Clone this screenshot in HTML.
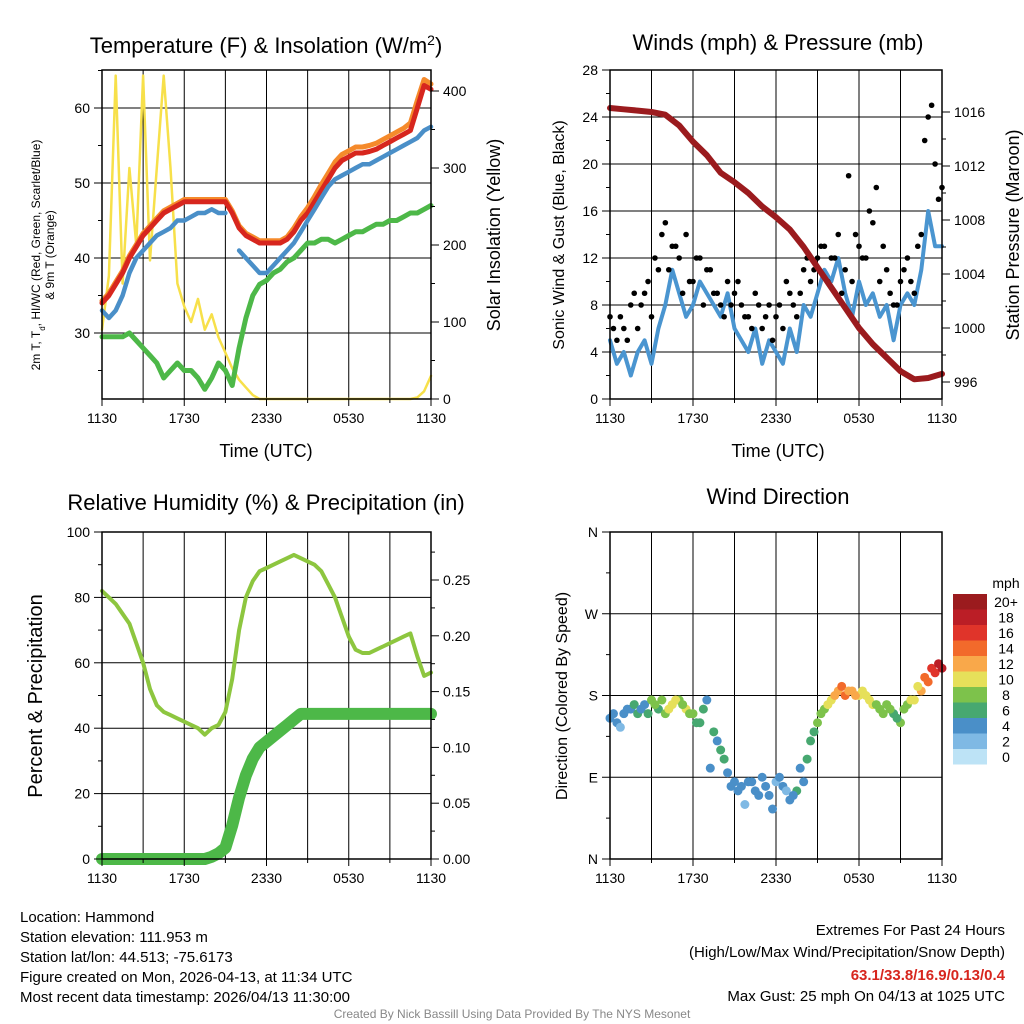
<!DOCTYPE html>
<html><head><meta charset="utf-8"><style>
body{margin:0;background:#fff}
svg{display:block;font-family:"Liberation Sans",Arial,sans-serif}
</style></head><body>
<svg id="c" width="1024" height="1024" viewBox="0 0 1024 1024"></svg>
<script>
const hoursHalf = Array.from({length:49},(_,i)=>i/2);
const xTickLabels = ["1130","1730","2330","0530","1130"];
const tempRed = [34,35,36.5,38,40,41.5,43,44,45,46,46.5,47,47.5,47.5,47.5,47.5,47.5,47.5,47.5,46,44,43,42.5,42,42,42,42,42.5,43.5,45,46,47.5,49,50.5,52,53,53.5,54,54,54.2,54.5,55,55.5,56,56.5,57,60,63,62.5];
const tempOrange = [34.3,35.3,36.8,38.3,40.3,41.8,43.3,44.3,45.3,46.3,46.8,47.3,47.8,47.8,47.8,47.8,47.8,47.8,47.8,46.3,44.3,43.3,42.8,42.3,42.3,42.3,42.3,42.8,44,45.5,46.7,48.2,49.8,51.3,52.8,53.8,54.3,54.8,54.8,55,55.3,55.8,56.3,56.8,57.3,58,61,63.8,63.2];
const tempBlue = [33,32,33,35,38,40,41,42,43,43.5,44,45,45,45.5,46,46,46.5,46,46,null,41,40,39,38,38,39,40,41,42,43.5,45,46.5,48,49.5,50.5,51,51.5,52,52.5,52.5,53,53.5,54,54.5,55,55.5,56,57,57.5];
const dewGreen = [29.5,29.5,29.5,29.5,30,29,28,27,26,24,25,26,25,25,24,22.5,24,26,25,23,28,32,35,36.5,37,38,38.5,39.5,40,41,42,42,42.5,42.5,42,42.5,43,43.5,43.5,44,44.5,44.5,45,45,45.5,46,46,46.5,47];
const solar = [90,160,420,150,300,200,420,180,300,420,300,150,120,100,130,90,110,80,60,40,25,15,5,0,0,0,0,0,0,0,0,0,0,0,0,0,0,0,0,0,0,0,0,0,0,0,2,10,30];
const windSpd = [5,3,4,2,4,5,3,6,8,11,9,7,8,10,9,8,7,9,6,5,4,6,3,5,4,3,6,4,8,7,9,11,10,12,9,7,10,8,9,7,8,5,8,9,8,11,16,13,13];
const gustA = [7,5,6,8,6,9,7,11,15,13,12,14,10,12,11,9,8,10,9,8,7,9,6,8,7,6,9,7,11,10,12,13,12,14,11,10,13,12,15,10,11,8,10,12,9,14,24,20,18];
const gustB = [6,7,5,9,8,10,12,14,11,13,9,10,12,8,11,9,7,8,10,7,6,8,7,5,8,10,8,9,12,11,13,10,12,9,19,14,12,16,18,13,9,8,11,10,13,22,25,17];
const hoursHourly = Array.from({length:25},(_,i)=>i);
const pressure = [1016.3,1016.2,1016.1,1016,1015.8,1015,1013.8,1012.8,1011.5,1010.8,1010,1009,1008.2,1007.3,1006,1004.5,1003,1001.5,1000,998.8,997.8,996.8,996.2,996.3,996.6];
const rh = [82,80,78,75,72,66,60,52,47,45,44,43,42,41,40,38,40,41,45,55,70,80,85,88,89,90,91,92,93,92,91,90,88,84,80,74,68,64,63,63,64,65,66,67,68,69,62,56,57];
const precip = [0,0,0,0,0,0,0,0,0,0,0,0,0,0,0,0,0.002,0.005,0.01,0.03,0.055,0.075,0.09,0.1,0.105,0.11,0.115,0.12,0.125,0.13,0.13,0.13,0.13,0.13,0.13,0.13,0.13,0.13,0.13,0.13,0.13,0.13,0.13,0.13,0.13,0.13,0.13,0.13,0.13];
const windDir = [155,150,160,165,160,170,175,165,160,170,175,165,160,150,175,140,120,95,85,80,85,75,90,70,85,80,65,75,85,130,150,165,175,185,180,185,180,180,170,165,170,160,150,170,175,185,195,205,210];
const dirSpeed = [3,4,4,3,5,4,7,6,8,10,7,9,8,6,4,6,5,4,3,3,4,3,4,3,2,4,3,5,4,6,7,8,9,11,13,12,10,10,9,8,7,6,8,7,9,11,14,16,17];
const windDirB = [160,145,165,170,165,160,170,175,165,175,170,160,150,165,100,130,110,80,75,60,85,70,80,55,90,75,70,100,110,140,160,170,180,190,185,180,185,175,170,160,165,155,165,175,190,200,210,215];
const dirSpeedB = [3,2,4,5,4,6,7,8,10,9,8,7,6,5,3,4,5,3,4,2,3,4,3,4,3,2,3,4,5,6,7,9,11,13,12,11,10,9,8,7,8,6,8,9,10,13,15,17];
const cbLabels = ["20+","18","16","14","12","10","8","6","4","2","0"];
const cbColors = ["#9b1b1e","#bb1e26","#e0342a","#f26a2b","#f9a84a","#e6e05a","#7dc24b","#47a870","#4a8fc8","#7fb9e4","#bde3f6"];

const svg=document.getElementById('c');
const NS='http://www.w3.org/2000/svg';
function mk(tag,attrs,parent,text){const e=document.createElementNS(NS,tag);for(const k in attrs)e.setAttribute(k,attrs[k]);if(text!==undefined)e.textContent=text;(parent||svg).appendChild(e);return e;}
function txt(x,y,s,size,anchor,name,extra){const e=mk('text',Object.assign({x:x,y:y,'font-size':size,'text-anchor':anchor||'middle',fill:'#000'},extra||{}),svg,s);return e;}
function path(xs,ys,fx,fy,color,w,name){let d='',pen=false;for(let i=0;i<xs.length;i++){if(ys[i]===null||ys[i]===undefined){pen=false;continue;}d+=(pen?'L':'M')+fx(xs[i]).toFixed(1)+' '+fy(ys[i]).toFixed(1);pen=true;}const p=mk('path',{d:d,fill:'none',stroke:color,'stroke-width':w,'stroke-linejoin':'round','stroke-linecap':'round'});return p;}
function frame(x0,x1,y0,y1,name){const g=mk('rect',{x:x0,y:y0,width:x1-x0,height:y1-y0,fill:'none',stroke:'#000','stroke-width':1.5});}
function grid(x0,x1,y0,y1,ys){for(let h=3;h<24;h+=3){const x=x0+(x1-x0)*h/24;mk('line',{x1:x,x2:x,y1:y0,y2:y1,stroke:'#000','stroke-width':1});}ys.forEach(y=>mk('line',{x1:x0,x2:x1,y1:y,y2:y,stroke:'#000','stroke-width':1}));}
function xAxis(x0,x1,y1,name){for(let h=0;h<=24;h+=3){const x=x0+(x1-x0)*h/24;mk('line',{x1:x,x2:x,y1:y1,y2:y1+(h%6===0?7:4),stroke:'#000'});}xTickLabels.forEach((l,i)=>{txt(x0+(x1-x0)*i/4,y1+24,l,14,'middle',name+'-tick-'+i);});}
function leftTicks(x0,vals,fy,labels,name,minor){vals.forEach((v,i)=>{const y=fy(v);mk('line',{x1:x0-8,x2:x0,y1:y,y2:y,stroke:'#000'});if(labels)txt(x0-12,y+5,labels[i],14,'end',name+'-tick-'+i);});(minor||[]).forEach(v=>{const y=fy(v);mk('line',{x1:x0-4,x2:x0,y1:y,y2:y,stroke:'#000'});});}
function rightTicks(x1,vals,fy,labels,name,minor){vals.forEach((v,i)=>{const y=fy(v);mk('line',{x1:x1,x2:x1+8,y1:y,y2:y,stroke:'#000'});txt(x1+12,y+5,labels[i],14,'start',name+'-tick-'+i);});(minor||[]).forEach(v=>{const y=fy(v);mk('line',{x1:x1,x2:x1+4,y1:y,y2:y,stroke:'#000'});});}

// ===== Panel 1 =====
{const x0=102,x1=431,y0=70,y1=399;const fx=h=>x0+(x1-x0)*h/24;const fy=v=>333-(v-30)*7.5;const fr=v=>399-v*0.77;
grid(x0,x1,y0,y1,[30,40,50,60].map(fy));
path(hoursHalf,solar,fx,fr,'#f7e04a',2.5,'solar-insolation-line');
path(hoursHalf,dewGreen,fx,fy,'#4db848',5,'dewpoint-line');
path(hoursHalf,tempOrange,fx,fy,'#f58a2b',5,'temp-9m-line');
path(hoursHalf,tempRed,fx,fy,'#d7261e',5,'temp-2m-line');
path(hoursHalf,tempBlue,fx,fy,'#4a8fc8',4.5,'wind-chill-line');
frame(x0,x1,y0,y1,'temperature-plot-frame');
leftTicks(x0,[30,40,50,60],fy,['30','40','50','60'],'temp-y',[25,35,45,55,65]);
rightTicks(x1,[0,100,200,300,400],fr,['0','100','200','300','400'],'solar-y',[50,150,250,350]);
xAxis(x0,x1,y1,'temp-x');
const t=txt(266,53,'Temperature (F) & Insolation (W/m',22,'middle','temperature-title');mk('tspan',{'baseline-shift':'super','font-size':14},t,'2');mk('tspan',{},t,')');
txt(266,457,'Time (UTC)',18,'middle','temperature-x-title');
const yl=txt(0,0,'',12,'middle','temperature-y-title',{transform:'translate(40,255) rotate(-90)'});mk('tspan',{x:0,y:0},yl,'2m T, T');mk('tspan',{'baseline-shift':'sub','font-size':8},yl,'d');mk('tspan',{},yl,', HI/WC (Red, Green, Scarlet/Blue)');mk('tspan',{x:0,y:14},yl,'& 9m T (Orange)');
txt(0,0,'Solar Insolation (Yellow)',18,'middle','solar-y-title',{transform:'translate(500,235) rotate(-90)'});
}
// ===== Panel 2 =====
{const x0=610,x1=942,y0=70,y1=399;const fx=h=>x0+(x1-x0)*h/24;const fy=v=>399-v*11.75;const fp=p=>382-(p-996)*13.5;
grid(x0,x1,y0,y1,[4,8,12,16,20,24].map(fy));
path(hoursHalf,windSpd,fx,fy,'#4a95d0',4,'sonic-wind-line');
gustA.forEach((g,i)=>{const c=mk('circle',{cx:fx(hoursHalf[i]),cy:fy(g),r:2.8,fill:'#000'});});
gustB.forEach((g,i)=>{const c=mk('circle',{cx:fx(hoursHalf[i]+0.25),cy:fy(g),r:2.8,fill:'#000'});});
path(hoursHourly,pressure,fx,fp,'#9b1b1e',6,'pressure-line');
frame(x0,x1,y0,y1,'winds-plot-frame');
leftTicks(x0,[0,4,8,12,16,20,24,28],fy,['0','4','8','12','16','20','24','28'],'wind-y',[2,6,10,14,18,22,26]);
rightTicks(x1,[996,1000,1004,1008,1012,1016],fp,['996','1000','1004','1008','1012','1016'],'pressure-y',[998,1002,1006,1010,1014]);
xAxis(x0,x1,y1,'wind-x');
txt(778,50,'Winds (mph) & Pressure (mb)',22,'middle','winds-title');
txt(778,457,'Time (UTC)',18,'middle','winds-x-title');
txt(0,0,'Sonic Wind & Gust (Blue, Black)',16,'middle','wind-y-title',{transform:'translate(564,235) rotate(-90)'});
txt(0,0,'Station Pressure (Maroon)',18,'middle','pressure-y-title',{transform:'translate(1019,235) rotate(-90)'});
}
// ===== Panel 3 =====
{const x0=102,x1=431,y0=532,y1=859;const fx=h=>x0+(x1-x0)*h/24;const fy=v=>859-v*3.27;const fq=v=>859-v*1116;
grid(x0,x1,y0,y1,[20,40,60,80].map(fy));
path(hoursHalf,rh,fx,fy,'#8dc63f',4,'humidity-line');
path(hoursHalf,precip,fx,fq,'#4db848',12,'precip-line');
frame(x0,x1,y0,y1,'humidity-plot-frame');
leftTicks(x0,[0,20,40,60,80,100],fy,['0','20','40','60','80','100'],'rh-y',[10,30,50,70,90]);
rightTicks(x1,[0,0.05,0.1,0.15,0.2,0.25],fq,['0.00','0.05','0.10','0.15','0.20','0.25'],'precip-y',[0.025,0.075,0.125,0.175,0.225,0.275]);
xAxis(x0,x1,y1,'rh-x');
txt(266,510,'Relative Humidity (%) & Precipitation (in)',22,'middle','humidity-title');
txt(0,0,'Percent & Precipitation',20,'middle','rh-y-title',{transform:'translate(42,696) rotate(-90)'});
}
// ===== Panel 4 =====
{const x0=610,x1=942,y0=532,y1=859;const fx=h=>x0+(x1-x0)*h/24;const fy=d=>859-d*(327/360);
grid(x0,x1,y0,y1,[90,180,270].map(fy));
const col=s=>{const i=Math.min(10,Math.floor((s+1)/2));return cbColors[10-i];};
windDir.forEach((d,i)=>{const c=mk('circle',{cx:fx(hoursHalf[i]),cy:fy(d),r:4.5,fill:col(dirSpeed[i])});});
windDirB.forEach((d,i)=>{const c=mk('circle',{cx:fx(hoursHalf[i]+0.25),cy:fy(d),r:4.5,fill:col(dirSpeedB[i])});});
frame(x0,x1,y0,y1,'direction-plot-frame');
leftTicks(x0,[0,90,180,270,360],fy,['N','E','S','W','N'],'dir-y',[45,135,225,315]);
xAxis(x0,x1,y1,'dir-x');
txt(778,504,'Wind Direction',22,'middle','direction-title');
txt(0,0,'Direction (Colored By Speed)',16,'middle','direction-y-title',{transform:'translate(567,696) rotate(-90)'});
txt(1006,588,'mph',14,'middle','colorbar-title');
cbColors.forEach((c,i)=>{const r=mk('rect',{x:953,y:594+i*15.5,width:34,height:15.5,fill:c});txt(1006,607+i*15.5,cbLabels[i],14,'middle','colorbar-label-'+i);});
}
// ===== Footer =====
['Location: Hammond','Station elevation: 111.953 m','Station lat/lon: 44.513; -75.6173','Figure created on Mon, 2026-04-13, at 11:34 UTC','Most recent data timestamp: 2026/04/13 11:30:00'].forEach((s,i)=>txt(20,922+i*20,s,15,'start','station-info-line-'+i));
txt(1005,935,'Extremes For Past 24 Hours',15,'end','extremes-title');
txt(1005,957,'(High/Low/Max Wind/Precipitation/Snow Depth)',15,'end','extremes-legend');
txt(1005,980,'63.1/33.8/16.9/0.13/0.4',15,'end','extremes-values',{fill:'#d7261e','font-weight':'bold'});
txt(1005,1001,'Max Gust: 25 mph On 04/13 at 1025 UTC',15,'end','max-gust');
txt(512,1018,'Created By Nick Bassill Using Data Provided By The NYS Mesonet',12,'middle','credit',{fill:'#888'});
</script>
</body></html>
